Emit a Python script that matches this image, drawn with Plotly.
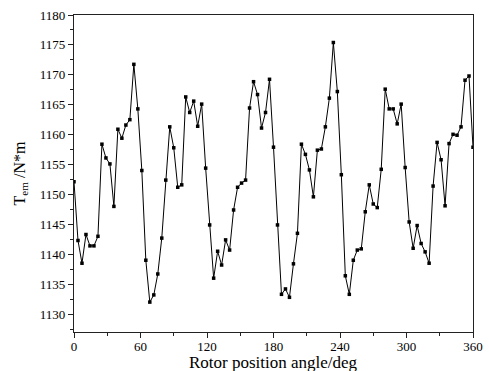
import plotly.graph_objects as go

angle_step = 3.6
torque = [
    1152.1, 1142.3, 1138.5, 1143.3, 1141.4, 1141.4, 1143.0, 1158.4, 1156.1, 1155.1,
    1148.0, 1160.9, 1159.4, 1161.6, 1162.5, 1171.75, 1164.3, 1154.0, 1139.0, 1132.0,
    1133.2, 1136.7, 1142.7, 1152.4, 1161.3, 1157.8, 1151.2, 1151.6, 1166.3, 1163.7,
    1165.6, 1161.4, 1165.1, 1154.4, 1144.9, 1136.0, 1140.5, 1138.2, 1142.4, 1140.7,
    1147.4, 1151.2, 1151.9, 1152.4, 1164.45, 1168.85, 1166.7, 1161.1, 1163.7, 1169.25,
    1157.9, 1144.9, 1133.3, 1134.2, 1132.8, 1138.4, 1143.5, 1158.4, 1156.7, 1154.1,
    1149.6, 1157.4, 1157.6, 1161.3, 1166.1, 1175.4, 1167.2, 1153.3, 1136.4, 1133.3,
    1139.0, 1140.7, 1140.9, 1147.1, 1151.6, 1148.4, 1147.8, 1154.2, 1167.6, 1164.3,
    1164.3, 1161.8, 1165.1, 1154.5, 1145.4, 1141.0, 1144.8, 1141.8, 1140.4, 1138.5,
    1151.4, 1158.7, 1155.8, 1148.1, 1158.5, 1160.05, 1159.9, 1161.3, 1169.1, 1169.8,
    1157.9,
]
angles = [round(i * angle_step, 1) for i in range(len(torque))]

x_ticks = [0, 60, 120, 180, 240, 300, 360]
y_ticks = [1130, 1135, 1140, 1145, 1150, 1155, 1160, 1165, 1170, 1175, 1180]

x_title = "Rotor position angle/deg"
y_title = "T<sub>em</sub> /N*m"

font_family = "Liberation Serif, Times New Roman, serif"

fig = go.Figure()
fig.add_trace(go.Scatter(
    x=angles, y=torque, mode="lines+markers",
    line=dict(color="black", width=1),
    marker=dict(symbol="square", size=3.5, color="black"),
    showlegend=False,
))

axis_common = dict(
    showline=True, linecolor="#222", linewidth=1.3, mirror=True,
    ticks="outside", ticklen=5, tickwidth=1, tickcolor="#222",
    showgrid=False, zeroline=False, automargin=False,
    tickfont=dict(family=font_family, size=13, color="black"),
)

fig.update_xaxes(
    range=[0, 360], tickvals=x_ticks, ticklabelstandoff=-3,
    minor=dict(ticks="outside", ticklen=3, tickwidth=1, tickcolor="#222", dtick=30, tick0=0),
    **axis_common,
)
fig.update_yaxes(
    range=[1127, 1180], tickvals=y_ticks,
    minor=dict(ticks="outside", ticklen=3, tickwidth=1, tickcolor="#222", dtick=2.5, tick0=1130),
    title=dict(text=y_title, font=dict(family=font_family, size=16, color="black"), standoff=10),
    **axis_common,
)

fig.add_annotation(
    text=x_title, xref="paper", yref="paper", x=0.5, y=-0.131,
    xanchor="center", yanchor="bottom", showarrow=False,
    font=dict(family=font_family, size=17, color="black"),
)

fig.update_layout(
    width=489, height=371,
    margin=dict(l=74, r=16, t=15, b=39),
    plot_bgcolor="white", paper_bgcolor="white",
)

fig.write_html("out.html")
